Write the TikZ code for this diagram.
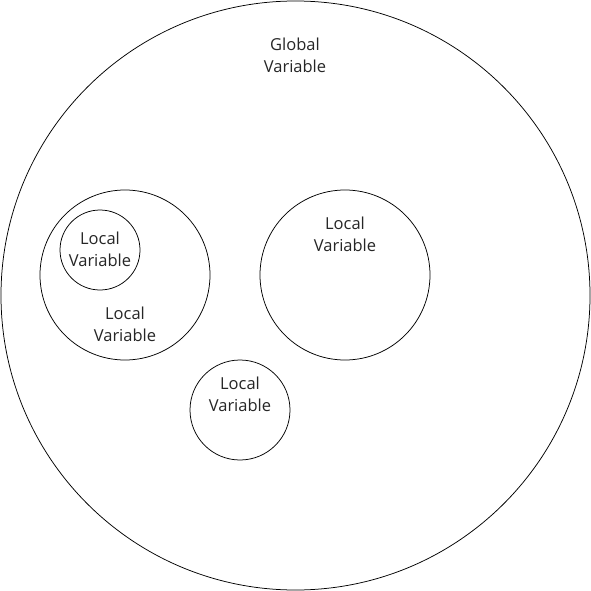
\documentclass[tikz,border=0pt]{standalone}
\usepackage{fontspec}
\setmainfont{Open Sans}
\begin{document}
\begin{tikzpicture}[x=1pt,y=-1pt]
\tikzset{scope style/.style={shape=circle,draw=black,line width=0.75pt,inner sep=0pt},
         label style/.style={align=center,text=black!85,font=\fontsize{16.5}{22}\selectfont,inner sep=0pt}}
\useasboundingbox (0,0) rectangle (591,591);

\node[scope style,minimum size=589] at (295.5, 295.5)   (global)   {};
\node[scope style,minimum size=170] at (125, 275)       (left)     {};
\node[scope style,minimum size=80]  at (100, 250)       (inner)    {};
\node[scope style,minimum size=170] at (345, 275)       (right)    {};
\node[scope style,minimum size=100] at (240, 410)       (bottom)   {};

\node[label style] at (295, 55)    (global text)   {Global\\Variable};
\node[label style] at (100, 249)   (inner text)    {Local\\Variable};
\node[label style] at (125, 324)   (left text)     {Local\\Variable};
\node[label style] at (345, 234)   (right text)    {Local\\Variable};
\node[label style] at (240, 394)   (bottom text)   {Local\\Variable};
%\node[label style] at (295, 500)  (extra text)    {Local\\Variable};
\end{tikzpicture}
\end{document}
